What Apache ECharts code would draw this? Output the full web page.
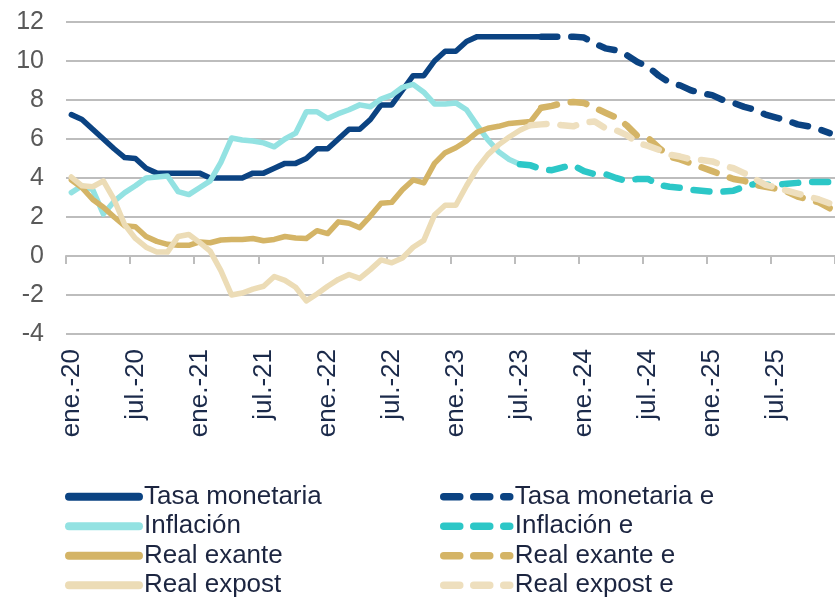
<!DOCTYPE html>
<html>
<head>
<meta charset="utf-8">
<script src="https://cdn.jsdelivr.net/npm/echarts@6/dist/echarts.min.js"></script>
<style>
  html, body { margin: 0; padding: 0; background: #ffffff; }
  #chart { width: 835px; height: 601px; }
</style>
</head>
<body>
<div id="chart"></div>
<script>
// Monthly axis: ene.-20 ... dic.-25
const monthNames = ['ene.', 'feb.', 'mar.', 'abr.', 'may.', 'jun.', 'jul.', 'ago.', 'sept.', 'oct.', 'nov.', 'dic.'];
const years = ['20', '21', '22', '23', '24', '25'];
const categories = [];
years.forEach(y => monthNames.forEach(m => categories.push(m + '-' + y)));

// Y axis ticks
const yTicks = { min: -4, max: 12, step: 2 };

// Observed series (start at ene.-20)
const tasaMonetaria = [7.25, 7.0, 6.5, 6.0, 5.5, 5.05, 5.0, 4.5, 4.25, 4.25, 4.25, 4.25, 4.25, 4.0, 4.0, 4.0, 4.0, 4.25, 4.25, 4.5, 4.75, 4.75, 5.0, 5.5, 5.5, 6.0, 6.5, 6.5, 7.0, 7.75, 7.75, 8.5, 9.25, 9.25, 10.0, 10.5, 10.5, 11.0, 11.25, 11.25, 11.25, 11.25, 11.25, 11.25, 11.25];
const inflacion = [3.25, 3.6, 3.4, 2.15, 2.8, 3.25, 3.6, 4.0, 4.05, 4.1, 3.3, 3.15, 3.5, 3.85, 4.8, 6.05, 5.95, 5.9, 5.8, 5.6, 6.0, 6.3, 7.4, 7.4, 7.05, 7.3, 7.5, 7.75, 7.65, 8.05, 8.25, 8.65, 8.8, 8.4, 7.8, 7.8, 7.85, 7.5, 6.7, 5.95, 5.35, 4.95, 4.7];
const realExante = [3.9, 3.5, 2.9, 2.5, 2.0, 1.55, 1.5, 1.0, 0.75, 0.6, 0.55, 0.55, 0.72, 0.68, 0.82, 0.85, 0.85, 0.9, 0.78, 0.85, 1.0, 0.92, 0.9, 1.3, 1.15, 1.75, 1.68, 1.45, 2.05, 2.7, 2.75, 3.4, 3.9, 3.75, 4.75, 5.3, 5.55, 5.9, 6.35, 6.55, 6.65, 6.8, 6.85, 6.9, 7.6];
const realExpost = [4.05, 3.6, 3.55, 3.85, 2.9, 1.6, 0.9, 0.45, 0.2, 0.2, 1.0, 1.1, 0.7, 0.25, -0.75, -2.0, -1.9, -1.7, -1.55, -1.05, -1.25, -1.6, -2.3, -1.95, -1.55, -1.2, -0.95, -1.15, -0.7, -0.2, -0.35, -0.1, 0.45, 0.8, 2.1, 2.6, 2.6, 3.6, 4.5, 5.2, 5.7, 6.1, 6.45, 6.7];

// Expected paths (first value repeats the last observation)
const tasaMonetariaEStart = 'sept.-23';
const tasaMonetariaE = [11.25, 11.25, 11.25, 11.25, 11.2, 10.9, 10.65, 10.55, 10.3, 9.95, 9.7, 9.25, 8.9, 8.75, 8.5, 8.35, 8.25, 8.0, 7.85, 7.65, 7.5, 7.25, 7.1, 6.95, 6.75, 6.65, 6.5, 6.3];
const inflacionEStart = 'jul.-23';
const inflacionE = [4.7, 4.65, 4.45, 4.4, 4.55, 4.65, 4.35, 4.2, 4.2, 4.0, 3.85, 3.95, 3.95, 3.65, 3.55, 3.5, 3.4, 3.35, 3.3, 3.3, 3.35, 3.55, 3.7, 3.65, 3.65, 3.7, 3.75, 3.8, 3.8, 3.8];
const realExanteEStart = 'sept.-23';
const realExanteE = [7.6, 7.7, 7.85, 7.9, 7.85, 7.6, 7.35, 7.1, 6.7, 6.15, 6.05, 5.55, 5.1, 4.95, 4.75, 4.55, 4.35, 4.15, 3.95, 3.85, 3.65, 3.55, 3.45, 3.3, 3.05, 2.9, 2.75, 2.45];
const realExpostEStart = 'ago.-23';
const realExpostE = [6.7, 6.75, 6.8, 6.7, 6.65, 6.85, 6.9, 6.55, 6.45, 6.2, 5.8, 5.65, 5.45, 5.2, 5.1, 4.95, 4.92, 4.85, 4.65, 4.5, 4.25, 3.95, 3.65, 3.5, 3.35, 3.2, 3.05, 2.9, 2.7];

// Place a run of values on the full monthly axis
function onAxis(values, startLabel) {
  const start = startLabel ? categories.indexOf(startLabel) : 0;
  return categories.map((_, i) => (i >= start && i - start < values.length) ? values[i - start] : null);
}

const FONT = '"Liberation Sans", Arial, sans-serif';
const FONT_SIZE = 26;
const GRID_GREY = '#bdbdbd';
const DASH = [16, 14];

function solid(name, color, values) {
  return {
    name, type: 'line', data: onAxis(values), symbol: 'none', showSymbol: false,
    lineStyle: { color, width: 5.5, cap: 'round', join: 'round' },
    itemStyle: { color }, emphasis: { disabled: true }
  };
}
function dashed(name, color, values, start) {
  return {
    name, type: 'line', data: onAxis(values, start), symbol: 'none', showSymbol: false,
    lineStyle: { color, width: 6.5, type: DASH, cap: 'round', join: 'round' },
    itemStyle: { color }, emphasis: { disabled: true }
  };
}

const legendBase = {
  orient: 'vertical', top: 482, height: 125, padding: 0, itemHeight: 14, itemGap: 0,
  selectedMode: false,
  textStyle: { fontFamily: FONT, fontSize: FONT_SIZE, color: '#1c2540', lineHeight: 29.5 },
  itemStyle: { opacity: 0 }
};

const chart = echarts.init(document.getElementById('chart'), null, { renderer: 'canvas' });
chart.setOption({
  animation: false,
  backgroundColor: '#ffffff',
  grid: { left: 66, top: 22, width: 775, height: 312, containLabel: false },
  legend: [
    Object.assign({}, legendBase, {
      left: 65, itemWidth: 70,
      lineStyle: { width: 8 },
      data: ['Tasa monetaria', 'Inflación', 'Real exante', 'Real expost']
    }),
    Object.assign({}, legendBase, {
      left: 440, itemWidth: 66,
      lineStyle: { width: 7.5 },
      data: ['Tasa monetaria e', 'Inflación e', 'Real exante e', 'Real expost e']
    })
  ],
  xAxis: [
    {
      type: 'category', data: categories, boundaryGap: true, position: 'bottom',
      axisLine: { show: false, onZero: false },
      axisTick: { show: false },
      splitLine: { show: false },
      axisLabel: { interval: 5, rotate: 90, margin: 15, fontFamily: FONT, fontSize: FONT_SIZE, color: '#1b2a4a' }
    },
    {
      type: 'category', data: categories, boundaryGap: true, position: 'bottom',
      axisLine: { show: true, onZero: true, lineStyle: { color: GRID_GREY, width: 2 } },
      axisTick: { show: true, interval: 5, length: 8, lineStyle: { color: GRID_GREY, width: 2 } },
      axisLabel: { show: false },
      splitLine: { show: false }
    }
  ],
  yAxis: {
    type: 'value', min: yTicks.min, max: yTicks.max, interval: yTicks.step,
    axisLine: { show: false }, axisTick: { show: false },
    axisLabel: { margin: 22, fontFamily: FONT, fontSize: 25, color: '#595959' },
    splitLine: { lineStyle: { color: GRID_GREY, width: 2 } }
  },
  series: [
    solid('Tasa monetaria', '#0b4382', tasaMonetaria),
    dashed('Tasa monetaria e', '#0b4382', tasaMonetariaE, tasaMonetariaEStart),
    solid('Inflación', '#93e2e2', inflacion),
    dashed('Inflación e', '#2cc7c7', inflacionE, inflacionEStart),
    solid('Real exante', '#d4b466', realExante),
    dashed('Real exante e', '#d4b466', realExanteE, realExanteEStart),
    solid('Real expost', '#ecdcb6', realExpost),
    dashed('Real expost e', '#eedfbe', realExpostE, realExpostEStart)
  ]
});
</script>
</body>
</html>
